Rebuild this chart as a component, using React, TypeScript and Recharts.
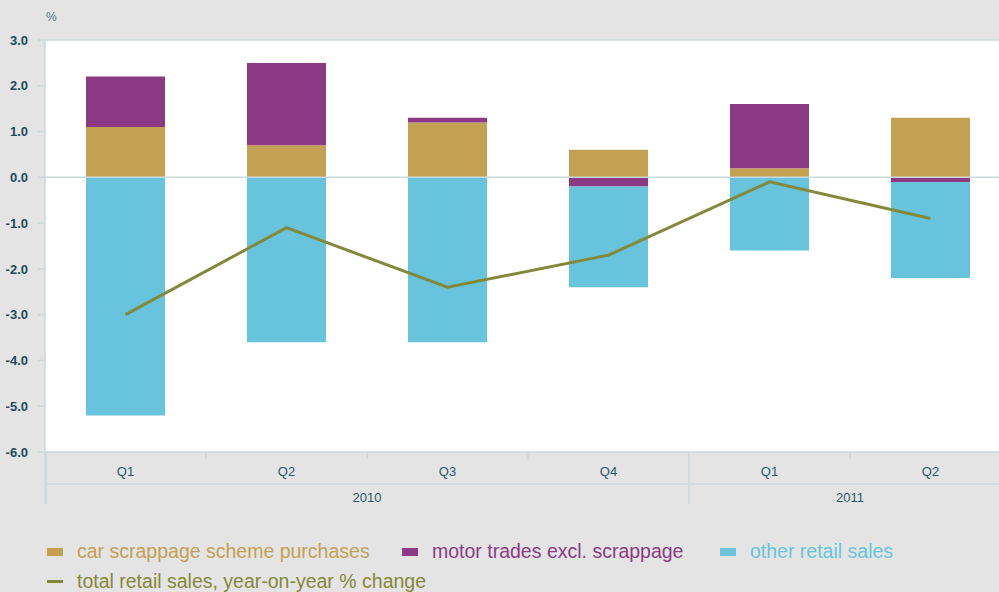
import { ComposedChart, Bar, Line, XAxis, YAxis, ReferenceLine } from 'recharts';

// ── Data ──────────────────────────────────────────────────────────────────────

const QUARTERS = ['Q1', 'Q2', 'Q3', 'Q4', 'Q1', 'Q2'];
const YEARS = ['2010', '2010', '2010', '2010', '2011', '2011'];
const SCRAPPAGE = [1.1, 0.7, 1.2, 0.6, 0.2, 1.3];
const MOTOR = [1.1, 1.8, 0.1, -0.2, 1.4, -0.1];
const OTHER = [-5.2, -3.6, -3.6, -2.2, -1.6, -2.1];
const TOTAL = [-3.0, -1.1, -2.4, -1.7, -0.1, -0.9];
const Y_TICKS = [-6, -5, -4, -3, -2, -1, 0, 1, 2, 3];

const data = QUARTERS.map((q, i) => ({
  q: `${q}-${i}`,
  label: q,
  year: YEARS[i],
  scrappage: SCRAPPAGE[i],
  motor: MOTOR[i],
  other: OTHER[i],
  total: TOTAL[i],
}));

// ── Layout / colours ─────────────────────────────────────────────────────────

const W = 999;
const H = 592;
// plot runs past the right edge of the picture (the last band is cut off)
const CHART_W = 1011;
const LEFT = 45;
const TOP = 40;
const PLOT_BOTTOM = 452;
const X_AXIS_H = 60;
const PLOT_W = CHART_W - LEFT;
const BAND = PLOT_W / QUARTERS.length;

const BG = '#e4e4e4';
const GOLD = '#c4a053';
const PURPLE = '#8c3a86';
const CYAN = '#68c4dd';
const OLIVE = '#84883a';
const RULE = '#c9dadd';
const TICK_TEXT = '#1d4b5a';
const AXIS_TEXT = '#2a5866';
const NARROW = "'Liberation Sans Narrow', 'Liberation Sans', Arial, sans-serif";

const SERIES = [
  { key: 'scrappage', name: 'car scrappage scheme purchases', colour: GOLD },
  { key: 'motor', name: 'motor trades excl. scrappage', colour: PURPLE },
  { key: 'other', name: 'other retail sales', colour: CYAN },
];

// ── Two-tier x-axis tick ─────────────────────────────────────────────────────

function QuarterTick(props: any) {
  const { x, payload } = props;
  const i: number = payload.index;
  const left = x - BAND / 2;
  const isGroupStart = i === 0 || YEARS[i] !== YEARS[i - 1];
  const groupCount = YEARS.filter((y) => y === YEARS[i]).length;
  const y0 = PLOT_BOTTOM;
  return (
    <g>
      <line
        x1={left}
        x2={left}
        y1={y0}
        y2={isGroupStart ? y0 + 52 : y0 + 7}
        stroke={RULE}
        strokeWidth={1.5}
      />
      <text x={x} y={y0 + 24} textAnchor="middle" fontSize={13} fill={AXIS_TEXT} fontFamily={NARROW}>
        {QUARTERS[i]}
      </text>
      {isGroupStart && (
        <text
          x={left + (groupCount * BAND) / 2}
          y={y0 + 50}
          textAnchor="middle"
          fontSize={13}
          fill={AXIS_TEXT}
          fontFamily={NARROW}
        >
          {YEARS[i]}
        </text>
      )}
      {i === 0 && (
        <line x1={LEFT} x2={CHART_W} y1={y0 + 32} y2={y0 + 32} stroke={RULE} strokeWidth={1.5} />
      )}
    </g>
  );
}

// ── Legend ───────────────────────────────────────────────────────────────────

function LegendBlock() {
  const text = {
    position: 'absolute' as const,
    fontSize: 19.5,
    fontFamily: "'Liberation Sans', Arial, sans-serif",
    lineHeight: '22px',
    whiteSpace: 'nowrap' as const,
  };
  const row1 = [47, 402, 720];
  return (
    <>
      {SERIES.map((s, i) => (
        <div key={s.key}>
          <div
            style={{
              position: 'absolute',
              left: row1[i],
              top: 548,
              width: 16,
              height: 8,
              background: s.colour,
            }}
          />
          <div style={{ ...text, left: row1[i] + 30, top: 540, color: s.colour }}>{s.name}</div>
        </div>
      ))}
      <div
        style={{ position: 'absolute', left: 47, top: 580, width: 16, height: 3, background: OLIVE }}
      />
      <div style={{ ...text, left: 77, top: 570, color: OLIVE }}>
        total retail sales, year-on-year % change
      </div>
    </>
  );
}

// ── Main ─────────────────────────────────────────────────────────────────────

export default function App() {
  return (
    <div
      style={{
        position: 'absolute',
        left: 0,
        top: 0,
        width: W,
        height: H,
        background: BG,
        overflow: 'hidden',
      }}
    >
      <div
        style={{
          position: 'absolute',
          left: LEFT,
          top: TOP,
          width: PLOT_W,
          height: PLOT_BOTTOM - TOP,
          background: '#ffffff',
        }}
      />
      <div
        style={{
          position: 'absolute',
          left: 46,
          top: 10,
          fontSize: 12,
          color: '#4f7783',
          fontFamily: "'Liberation Sans', Arial, sans-serif",
        }}
      >
        %
      </div>
      <div style={{ position: 'absolute', left: 0, top: 0 }}>
        <ComposedChart
          width={CHART_W}
          height={H}
          data={data}
          stackOffset="sign"
          margin={{ top: TOP, right: 0, left: 0, bottom: H - PLOT_BOTTOM - X_AXIS_H }}
          barCategoryGap={0}
        >
          <XAxis
            dataKey="q"
            height={X_AXIS_H}
            axisLine={false}
            tickLine={false}
            interval={0}
            tick={<QuarterTick />}
          />
          <YAxis
            type="number"
            width={LEFT}
            domain={[-6, 3]}
            ticks={Y_TICKS}
            interval={0}
            tickFormatter={(v: number) => v.toFixed(1)}
            tick={{
              fontSize: 13,
              fontWeight: 700,
              fill: TICK_TEXT,
              fontFamily: "'Liberation Sans', Arial, sans-serif",
            }}
            axisLine={{ stroke: RULE, strokeWidth: 1.5 }}
            tickLine={{ stroke: RULE, strokeWidth: 1.5 }}
            tickSize={7}
            tickMargin={10}
          />
          <ReferenceLine y={3} stroke={RULE} strokeWidth={1.5} />
          <ReferenceLine y={-6} stroke={RULE} strokeWidth={1.5} />
          {SERIES.map((s) => (
            <Bar
              key={s.key}
              dataKey={s.key}
              name={s.name}
              stackId="a"
              fill={s.colour}
              barSize={79}
              isAnimationActive={false}
            />
          ))}
          <ReferenceLine y={0} stroke={RULE} strokeWidth={1.5} />
          <Line
            type="linear"
            dataKey="total"
            stroke={OLIVE}
            strokeWidth={3}
            dot={false}
            activeDot={false}
            isAnimationActive={false}
          />
        </ComposedChart>
      </div>
      <div
        style={{
          position: 'absolute',
          left: LEFT,
          top: PLOT_BOTTOM,
          width: 1.5,
          height: 52,
          background: RULE,
        }}
      />
      <LegendBlock />
    </div>
  );
}
